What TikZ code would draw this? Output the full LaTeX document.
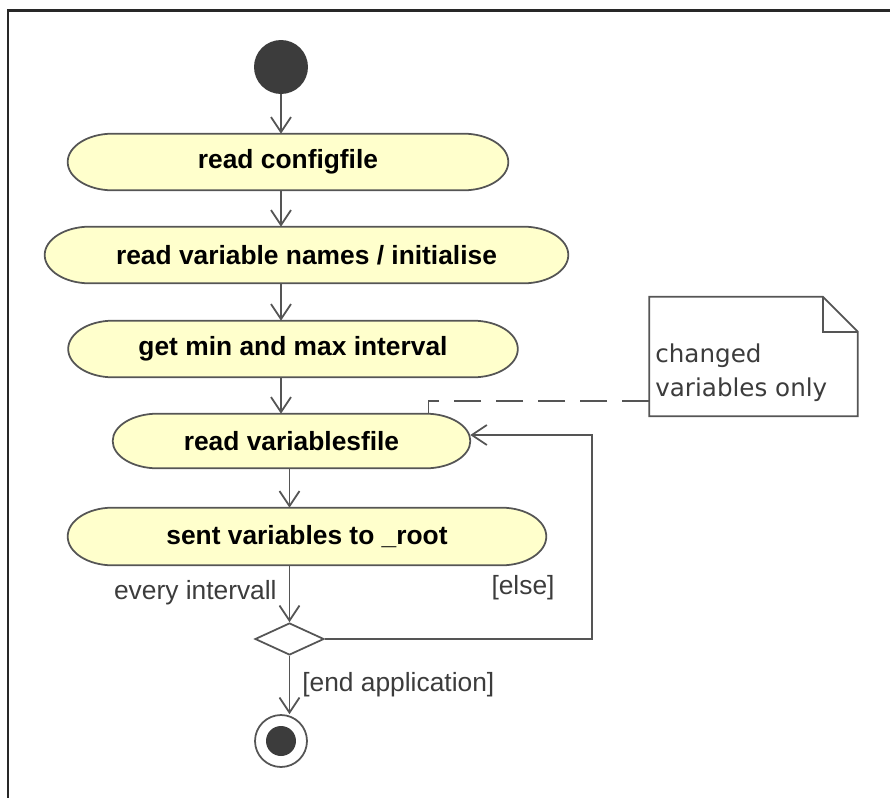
\documentclass[tikz,border=0pt]{standalone}
\usepackage{fontspec}
\setmainfont{Liberation Sans}
\newfontfamily\notefont{DejaVu Sans}
\usetikzlibrary{shapes.geometric,arrows.meta,calc,backgrounds}

\definecolor{actfill}{RGB}{255,255,204}
\definecolor{linegray}{RGB}{85,85,85}
\definecolor{dotgray}{RGB}{60,60,60}
\definecolor{framegray}{RGB}{40,40,40}

\begin{document}
\begin{tikzpicture}[x=0.02cm,y=-0.02cm,
  >={Straight Barb[length=3mm,width=4mm]},
  activity/.style={rectangle,inner sep=0pt,font=\fontsize{15}{18}\selectfont\bfseries},
  actshape/.style={draw=linegray,fill=actfill,line width=1pt},
  flow/.style={draw=linegray,line width=1pt,->},
  guard/.style={text=dotgray,inner sep=0pt,font=\fontsize{15}{18}\selectfont}]
\useasboundingbox (0,0) rectangle (890,798);
\draw[framegray,line width=0.06cm] (8,798) -- (8,10) -- (890,10);

% start and activities
\node[circle,fill=dotgray,minimum size=1.08cm,inner sep=0pt] (start) at (281,67) {};
\node[activity,minimum width=8.8cm,minimum height=1.12cm] (act1) at (288,162) {read configfile};
\node[activity,minimum width=10.46cm,minimum height=1.12cm] (act2) at (306.5,255) {read variable names / initialise};
\node[activity,minimum width=8.98cm,minimum height=1.12cm] (act3) at (293,349) {get min and max interval};
\node[activity,minimum width=7.14cm,minimum height=1.08cm] (act4) at (291.5,441) {read variablesfile};
\node[activity,minimum width=9.56cm,minimum height=1.14cm] (act5) at (307,536.5) {sent variables to \_root};
\node[diamond,draw=linegray,fill=white,line width=1pt,minimum width=1.38cm,minimum height=0.64cm,inner sep=0pt] (dec) at (289.5,639) {};
\node[circle,draw=linegray,fill=white,line width=1pt,minimum size=1.04cm,inner sep=0pt] (endout) at (281,741) {};
\node[circle,fill=dotgray,minimum size=0.6cm,inner sep=0pt] (endin) at (endout) {};

% activity outlines, ends drawn as half ellipses
\begin{scope}[on background layer]
\foreach \a in {act1,act2,act3,act4,act5}
  \draw[actshape] let \p1=(\a.north), \p2=(\a.south), \n1={(\y1-\y2)/2} in
    ([xshift=0.9cm]\a.north west) -- ([xshift=-0.9cm]\a.north east)
    arc[start angle=90,end angle=-90,x radius=0.9cm,y radius=\n1]
    -- ([xshift=0.9cm]\a.south west)
    arc[start angle=270,end angle=90,x radius=0.9cm,y radius=\n1] -- cycle;
\end{scope}

% flows
\draw[flow] (start) -- (start |- act1.north);
\foreach \a/\b in {act1/act2,act2/act3,act3/act4}
  \draw[flow] (\a.south -| start) -- (\b.north -| start);
\draw[flow] (act4.south -| dec) -- (act5.north -| dec);
\draw[flow] (act5.south -| dec) -- (dec.north);
\draw[flow] (dec.south) -- (dec.south |- endout.north);
\draw[flow] (dec.east) -- ++(267,0) |- ([yshift=0.12cm]act4.east);

% guards
\node[guard,anchor=east] (every) at (277,593) {every intervall};
\node[guard] (else) at (523,588) {[else]};
\node[guard,anchor=west] (endapp) at (302,685) {[end application]};

% note
\node[minimum width=4.16cm,minimum height=2.38cm,inner sep=0pt] (note) at (753.5,356.5) {};
\draw[linegray,line width=1pt,fill=white] (note.north west) -- ([xshift=-0.7cm]note.north east)
  -- ([yshift=-0.7cm]note.north east) -- (note.south east) -- (note.south west) -- cycle;
\draw[linegray,line width=1pt] ([xshift=-0.7cm]note.north east) |- ([yshift=-0.7cm]note.north east);
\node[anchor=west,align=left,inner sep=0pt,text=dotgray,font=\notefont\fontsize{14}{19.5}\selectfont]
  (notetext) at (655,373) {changed\\variables only};
\draw[linegray,line width=1pt,dash pattern=on 0.54cm off 0.3cm]
  ([yshift=-0.89cm]note.west) -| ([xshift=2.74cm]act4.north);
\end{tikzpicture}
\end{document}
